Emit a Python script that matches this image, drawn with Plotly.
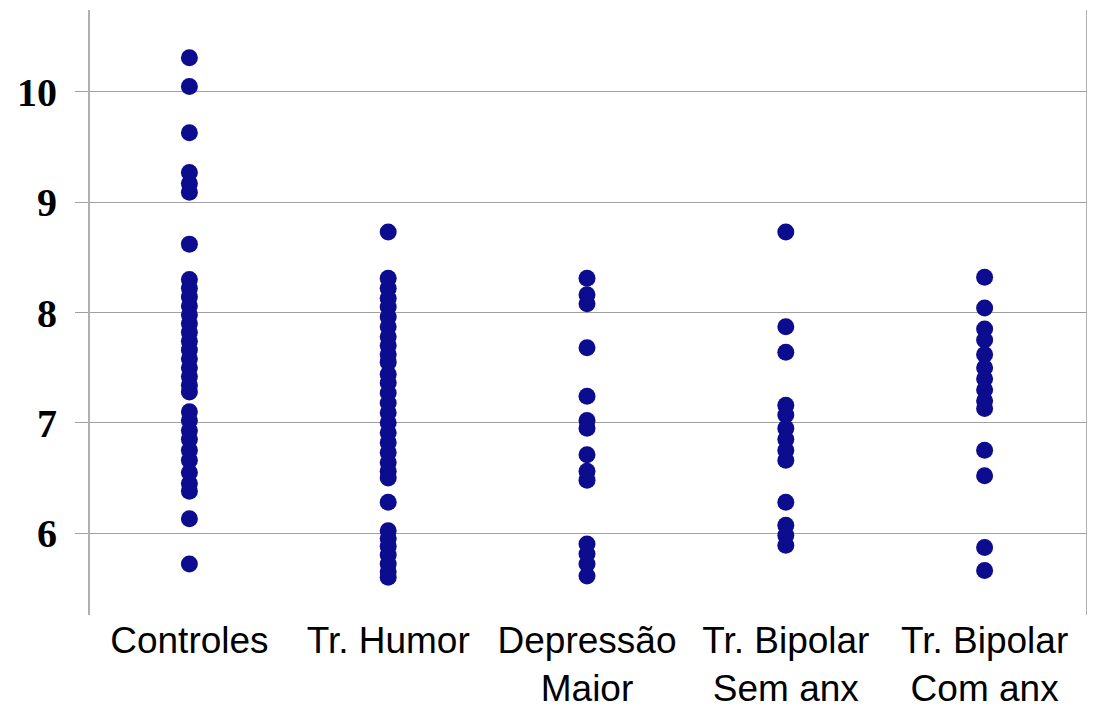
import plotly.graph_objects as go

# group labels (x axis) and values
categories = ["Controles", "Tr. Humor", "Depressão<br>Maior",
              "Tr. Bipolar<br>Sem anx", "Tr. Bipolar<br>Com anx"]

controles = [10.31, 10.05, 9.63, 9.27, 9.17, 9.09, 8.62, 8.30, 8.22, 8.14,
             8.06, 7.98, 7.90, 7.82, 7.74, 7.66, 7.58, 7.50, 7.42, 7.34,
             7.28, 7.10, 7.02, 6.93, 6.85, 6.75, 6.66, 6.55, 6.45, 6.38,
             6.13, 5.72]
tr_humor = [8.73, 8.31, 8.22, 8.13, 8.05, 7.96, 7.87, 7.78, 7.70, 7.62,
            7.55, 7.44, 7.36, 7.27, 7.18, 7.09, 7.00, 6.91, 6.82, 6.73,
            6.64, 6.56, 6.50, 6.28, 6.02, 5.95, 5.88, 5.80, 5.72, 5.65, 5.60]
depressao = [8.31, 8.16, 8.08, 7.68, 7.24, 7.02, 6.95, 6.71, 6.56, 6.48,
             5.90, 5.81, 5.72, 5.61]
bipolar_sem = [8.73, 7.87, 7.64, 7.16, 7.07, 6.95, 6.85, 6.75, 6.66, 6.28,
               6.07, 5.98, 5.89]
bipolar_com = [8.32, 8.04, 7.85, 7.75, 7.62, 7.50, 7.40, 7.30, 7.20, 7.13,
               6.75, 6.52, 5.87, 5.66]

groups = [controles, tr_humor, depressao, bipolar_sem, bipolar_com]

y_ticks = [6, 7, 8, 9, 10]

fig = go.Figure()
for i, vals in enumerate(groups):
    fig.add_trace(go.Scatter(
        x=[i] * len(vals),
        y=vals,
        mode="markers",
        marker=dict(color="#0c0c8e", size=17, line=dict(width=0)),
        showlegend=False,
        hoverinfo="y",
    ))

# page body has an 8px margin, so the figure is sized so that it fits the window
fig.update_layout(
    width=1079,
    height=701,
    margin=dict(l=82, r=1, t=2, b=94),
    plot_bgcolor="white",
    paper_bgcolor="white",
)

fig.update_xaxes(
    range=[-0.5, 4.51],
    tickmode="array",
    tickvals=list(range(len(categories))),
    ticktext=categories,
    tickfont=dict(family="Liberation Sans, Arial", size=37, color="black"),
    showgrid=False,
    zeroline=False,
    showline=False,
    ticks="",
    automargin=False,
)

fig.update_yaxes(
    range=[5.257, 10.743],
    tickmode="array",
    tickvals=y_ticks,
    ticktext=[str(v) for v in y_ticks],
    tickfont=dict(family="Liberation Serif, Times New Roman", size=40,
                  color="black", weight="bold"),
    showgrid=True,
    gridcolor="#a0a0a0",
    gridwidth=1,
    zeroline=False,
    showline=True,
    linecolor="#b0b0b0",
    linewidth=2,
    mirror=True,
    ticks="outside",
    ticklen=13,
    tickcolor="#a0a0a0",
    ticklabelstandoff=10,
    automargin=False,
)

fig.write_html("out.html")
